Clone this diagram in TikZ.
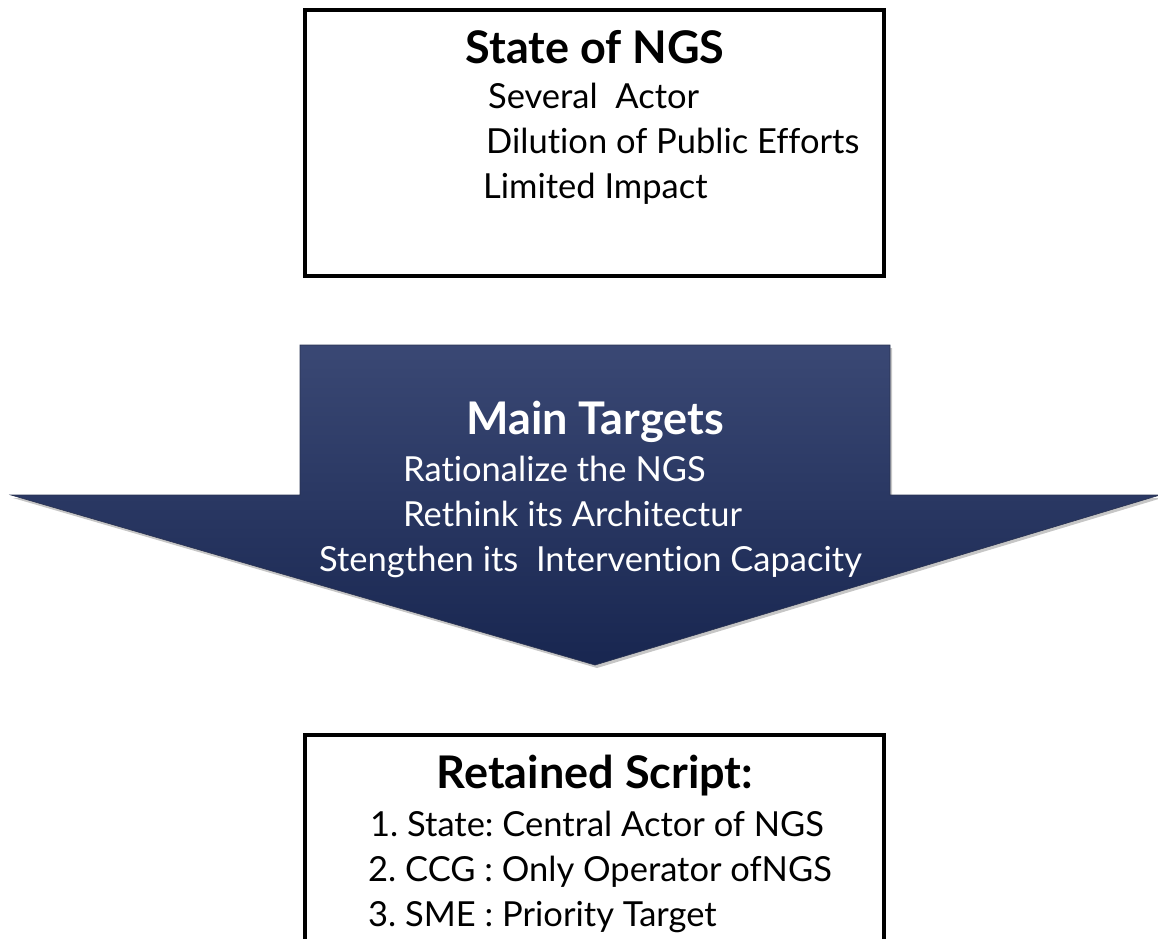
\documentclass[tikz,border=0pt]{standalone}
\usepackage{fontspec}
\setmainfont{Lato}[Ligatures={NoCommon}]
\usetikzlibrary{shadows}
\frenchspacing
\definecolor{navytop}{RGB}{58,72,116}
\definecolor{navybot}{RGB}{24,38,80}
\tikzset{
  framebox/.style={draw=black, line width=4pt, fill=white},
  titletext/.style={font=\fontsize{45}{50}\selectfont\bfseries, inner sep=0pt},
  bodytext/.style={font=\fontsize{34.5}{40}\selectfont, inner sep=0pt, anchor=base west},
  bigarrow/.style={top color=navytop, bottom color=navybot, draw=navytop!70!black, line width=0.6pt,
    drop shadow={opacity=0.45, shadow xshift=2pt, shadow yshift=-3pt}},
}
\begin{document}
\begin{tikzpicture}[x=1pt, y=-1pt]
\useasboundingbox (0,0) rectangle (1158,938);
\clip (0,0) rectangle (1158,938);
% top box
\draw[framebox] (305,10) rectangle (884,276);
\node[titletext, anchor=base] (t1) at (595,63) {State of NGS};
\node[bodytext] (t1a) at (488,108) {Several\ \ Actor};
\node[bodytext] (t1b) at (486,153) {Dilution of Public Efforts};
\node[bodytext] (t1c) at (483,198) {Limited Impact};
% arrow
\path[bigarrow] (300,345) -- (890,345) -- (890,495) -- (1160,495) -- (595,665) -- (11,495) -- (300,495) -- cycle;
\node[titletext, anchor=base, text=white] (t2) at (595,434) {Main Targets};
\node[bodytext, text=white] (t2a) at (403,481) {Rationalize the NGS};
\node[bodytext, text=white] (t2b) at (403,526) {Rethink its Architectur};
\node[bodytext, text=white] (t2c) at (319,571) {Stengthen its\ \ Intervention Capacity};
% bottom box
\draw[framebox] (305,735) rectangle (884,980);
\node[titletext, anchor=base] (t3) at (595,788) {Retained Script:};
\node[bodytext] (t3a) at (370,836) {1. State: Central Actor of NGS};
\node[bodytext] (t3b) at (368,881) {2. CCG : Only Operator ofNGS};
\node[bodytext] (t3c) at (368,926) {3. SME : Priority Target};
\end{tikzpicture}
\end{document}
